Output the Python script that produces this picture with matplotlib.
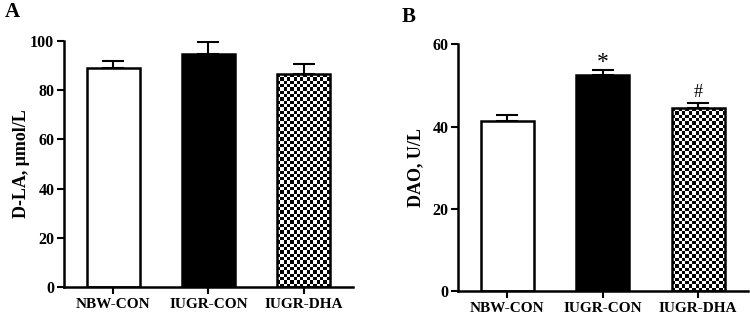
import numpy as np
import matplotlib
matplotlib.use("Agg")
import matplotlib.pyplot as plt

plt.rcParams['font.family'] = ['Liberation Serif', 'DejaVu Serif']
plt.rcParams['font.weight'] = 'bold'

categories = ['NBW-CON', 'IUGR-CON', 'IUGR-DHA']
dla_mean = [89.0, 94.7, 86.4]
dla_err = [3.0, 4.9, 4.2]
dao_mean = [41.4, 52.5, 44.4]
dao_err = [1.3, 1.3, 1.2]
dao_marks = ['', '*', '#']
yticks_a = [0, 20, 40, 60, 80, 100]
yticks_b = [0, 20, 40, 60]

fig = plt.figure(figsize=(7.5, 3.15), dpi=100)
axA = fig.add_axes([0.0853, 0.0889, 0.3854, 0.7809])
axB = fig.add_axes([0.6107, 0.0762, 0.3863, 0.7832])


def checker_fill(ax, bar, cell_px=3.3):
    fig.canvas.draw()
    x0, y0 = bar.get_x(), bar.get_y()
    w, h = bar.get_width(), bar.get_height()
    p0 = ax.transData.transform((x0, y0))
    p1 = ax.transData.transform((x0 + w, y0 + h))
    nx = max(1, int(round(abs(p1[0] - p0[0]) / cell_px)))
    ny = max(1, int(round(abs(p1[1] - p0[1]) / cell_px)))
    arr = (np.add.outer(np.arange(ny), np.arange(nx)) % 2).astype(float)
    im = ax.imshow(arr, cmap='gray', extent=(x0, x0 + w, y0, y0 + h),
                   interpolation='nearest', aspect='auto', zorder=1.5,
                   vmin=0, vmax=1)
    im.set_clip_path(bar)


def panel(ax, means, errs, yticks, ylabel, letter, letter_xy):
    x = np.arange(len(categories))
    ax.errorbar(x, means, yerr=[np.zeros(len(errs)), errs], fmt='none',
                ecolor='black', elinewidth=1.5, capsize=8, capthick=1.5, zorder=1)
    bars = ax.bar(x, means, width=0.555, color=['white', 'black', 'white'],
                  edgecolor='black', linewidth=1.8, zorder=2)
    ax.set_xlim(-0.515, 2.518)
    ax.set_ylim(0, yticks[-1])
    ax.set_yticks(yticks)
    ax.set_xticks(x)
    ax.set_xticklabels(categories, fontsize=11, fontweight='bold')
    ax.tick_params(axis='y', labelsize=11.5, width=1.5, length=5, pad=2)
    ax.tick_params(axis='x', width=1.5, length=5, pad=3)
    for lab in ax.get_yticklabels():
        lab.set_fontweight('bold')
    for s in ['top', 'right']:
        ax.spines[s].set_visible(False)
    for s in ['left', 'bottom']:
        ax.spines[s].set_linewidth(1.8)
    ax.set_ylabel(ylabel, fontsize=13, fontweight='bold')
    ax.yaxis.set_label_coords(-0.118, 0.5)
    fig.text(letter_xy[0], letter_xy[1], letter, fontsize=15, fontweight='bold',
             ha='left', va='top')
    checker_fill(ax, bars[2])
    bars[2].set_zorder(2)
    bars[2].set_facecolor('none')
    return bars


panel(axA, dla_mean, dla_err, yticks_a, 'D-LA, μmol/L', 'A', (0.006, 0.995))
panel(axB, dao_mean, dao_err, yticks_b, 'DAO, U/L', 'B', (0.535, 0.978))

for i, m in enumerate(dao_marks):
    if m:
        fs = 17 if m == '*' else 13
        off = -2 if m == '*' else 2
        axB.annotate(m, (i, dao_mean[i] + dao_err[i]), xytext=(0, off),
                     textcoords='offset points', ha='center', va='bottom',
                     fontsize=fs, fontweight='normal')

fig.savefig('out.png', dpi=100)
